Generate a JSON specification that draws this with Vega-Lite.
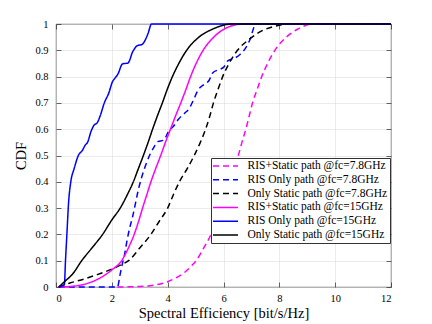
{
  "$schema": "https://vega.github.io/schema/vega-lite/v6.json",
  "width": 335,
  "height": 263,
  "autosize": {"type": "none"},
  "padding": {"left": 56, "top": 24, "right": 41, "bottom": 37},
  "background": "white",
  "config": {
    "font": "Liberation Serif",
    "view": {"stroke": "#262626", "strokeWidth": 0.8},
    "axis": {
      "labelFont": "Liberation Serif",
      "labelFontSize": 10.5,
      "labelColor": "#000000",
      "titleFont": "Liberation Serif",
      "titleFontSize": 14.5,
      "titleFontWeight": "normal",
      "titleColor": "#000000",
      "gridColor": "#dedede",
      "gridWidth": 0.6,
      "domain": false,
      "tickColor": "#262626",
      "tickWidth": 0.7
    },
    "legend": {
      "labelFont": "Liberation Serif",
      "labelFontSize": 11.5,
      "labelColor": "#000000",
      "labelLimit": 0
    }
  },
  "data": {"values": [
    {"s": "RIS+Static path @fc=7.8GHz", "x": 2.2, "y": 0},
    {"s": "RIS+Static path @fc=7.8GHz", "x": 3.0, "y": 0.002},
    {"s": "RIS+Static path @fc=7.8GHz", "x": 3.5, "y": 0.007},
    {"s": "RIS+Static path @fc=7.8GHz", "x": 4.0, "y": 0.02},
    {"s": "RIS+Static path @fc=7.8GHz", "x": 4.3, "y": 0.035},
    {"s": "RIS+Static path @fc=7.8GHz", "x": 4.6, "y": 0.055},
    {"s": "RIS+Static path @fc=7.8GHz", "x": 4.85, "y": 0.08},
    {"s": "RIS+Static path @fc=7.8GHz", "x": 5.02, "y": 0.1},
    {"s": "RIS+Static path @fc=7.8GHz", "x": 5.3, "y": 0.15},
    {"s": "RIS+Static path @fc=7.8GHz", "x": 5.55, "y": 0.2},
    {"s": "RIS+Static path @fc=7.8GHz", "x": 5.72, "y": 0.25},
    {"s": "RIS+Static path @fc=7.8GHz", "x": 5.88, "y": 0.3},
    {"s": "RIS+Static path @fc=7.8GHz", "x": 6.05, "y": 0.35},
    {"s": "RIS+Static path @fc=7.8GHz", "x": 6.2, "y": 0.4},
    {"s": "RIS+Static path @fc=7.8GHz", "x": 6.37, "y": 0.45},
    {"s": "RIS+Static path @fc=7.8GHz", "x": 6.53, "y": 0.5},
    {"s": "RIS+Static path @fc=7.8GHz", "x": 6.66, "y": 0.55},
    {"s": "RIS+Static path @fc=7.8GHz", "x": 6.8, "y": 0.6},
    {"s": "RIS+Static path @fc=7.8GHz", "x": 6.92, "y": 0.65},
    {"s": "RIS+Static path @fc=7.8GHz", "x": 7.04, "y": 0.7},
    {"s": "RIS+Static path @fc=7.8GHz", "x": 7.2, "y": 0.75},
    {"s": "RIS+Static path @fc=7.8GHz", "x": 7.37, "y": 0.8},
    {"s": "RIS+Static path @fc=7.8GHz", "x": 7.58, "y": 0.85},
    {"s": "RIS+Static path @fc=7.8GHz", "x": 7.84, "y": 0.9},
    {"s": "RIS+Static path @fc=7.8GHz", "x": 8.25, "y": 0.95},
    {"s": "RIS+Static path @fc=7.8GHz", "x": 8.65, "y": 0.98},
    {"s": "RIS+Static path @fc=7.8GHz", "x": 9.2, "y": 1},
    {"s": "RIS+Static path @fc=7.8GHz", "x": 12, "y": 1},

    {"s": "RIS Only path @fc=7.8GHz", "x": 0.1, "y": 0},
    {"s": "RIS Only path @fc=7.8GHz", "x": 2.2, "y": 0},
    {"s": "RIS Only path @fc=7.8GHz", "x": 2.3, "y": 0.05},
    {"s": "RIS Only path @fc=7.8GHz", "x": 2.38, "y": 0.09},
    {"s": "RIS Only path @fc=7.8GHz", "x": 2.45, "y": 0.12},
    {"s": "RIS Only path @fc=7.8GHz", "x": 2.55, "y": 0.18},
    {"s": "RIS Only path @fc=7.8GHz", "x": 2.63, "y": 0.22},
    {"s": "RIS Only path @fc=7.8GHz", "x": 2.75, "y": 0.27},
    {"s": "RIS Only path @fc=7.8GHz", "x": 2.85, "y": 0.32},
    {"s": "RIS Only path @fc=7.8GHz", "x": 2.95, "y": 0.37},
    {"s": "RIS Only path @fc=7.8GHz", "x": 3.05, "y": 0.41},
    {"s": "RIS Only path @fc=7.8GHz", "x": 3.2, "y": 0.46},
    {"s": "RIS Only path @fc=7.8GHz", "x": 3.35, "y": 0.5},
    {"s": "RIS Only path @fc=7.8GHz", "x": 3.5, "y": 0.53},
    {"s": "RIS Only path @fc=7.8GHz", "x": 3.65, "y": 0.553},
    {"s": "RIS Only path @fc=7.8GHz", "x": 3.85, "y": 0.558},
    {"s": "RIS Only path @fc=7.8GHz", "x": 4.05, "y": 0.595},
    {"s": "RIS Only path @fc=7.8GHz", "x": 4.2, "y": 0.61},
    {"s": "RIS Only path @fc=7.8GHz", "x": 4.4, "y": 0.64},
    {"s": "RIS Only path @fc=7.8GHz", "x": 4.6, "y": 0.66},
    {"s": "RIS Only path @fc=7.8GHz", "x": 4.78, "y": 0.68},
    {"s": "RIS Only path @fc=7.8GHz", "x": 4.92, "y": 0.71},
    {"s": "RIS Only path @fc=7.8GHz", "x": 5.1, "y": 0.75},
    {"s": "RIS Only path @fc=7.8GHz", "x": 5.3, "y": 0.77},
    {"s": "RIS Only path @fc=7.8GHz", "x": 5.48, "y": 0.785},
    {"s": "RIS Only path @fc=7.8GHz", "x": 5.62, "y": 0.815},
    {"s": "RIS Only path @fc=7.8GHz", "x": 5.8, "y": 0.825},
    {"s": "RIS Only path @fc=7.8GHz", "x": 6.0, "y": 0.835},
    {"s": "RIS Only path @fc=7.8GHz", "x": 6.15, "y": 0.86},
    {"s": "RIS Only path @fc=7.8GHz", "x": 6.4, "y": 0.87},
    {"s": "RIS Only path @fc=7.8GHz", "x": 6.6, "y": 0.885},
    {"s": "RIS Only path @fc=7.8GHz", "x": 6.8, "y": 0.91},
    {"s": "RIS Only path @fc=7.8GHz", "x": 6.98, "y": 0.95},
    {"s": "RIS Only path @fc=7.8GHz", "x": 7.08, "y": 0.985},
    {"s": "RIS Only path @fc=7.8GHz", "x": 7.15, "y": 1},
    {"s": "RIS Only path @fc=7.8GHz", "x": 12, "y": 1},

    {"s": "Only Static path @fc=7.8GHz", "x": 0.1, "y": 0},
    {"s": "Only Static path @fc=7.8GHz", "x": 0.5, "y": 0.015},
    {"s": "Only Static path @fc=7.8GHz", "x": 1.0, "y": 0.03},
    {"s": "Only Static path @fc=7.8GHz", "x": 1.5, "y": 0.048},
    {"s": "Only Static path @fc=7.8GHz", "x": 2.0, "y": 0.068},
    {"s": "Only Static path @fc=7.8GHz", "x": 2.3, "y": 0.083},
    {"s": "Only Static path @fc=7.8GHz", "x": 2.6, "y": 0.1},
    {"s": "Only Static path @fc=7.8GHz", "x": 3.0, "y": 0.148},
    {"s": "Only Static path @fc=7.8GHz", "x": 3.4, "y": 0.2},
    {"s": "Only Static path @fc=7.8GHz", "x": 3.7, "y": 0.25},
    {"s": "Only Static path @fc=7.8GHz", "x": 4.0, "y": 0.3},
    {"s": "Only Static path @fc=7.8GHz", "x": 4.2, "y": 0.35},
    {"s": "Only Static path @fc=7.8GHz", "x": 4.42, "y": 0.4},
    {"s": "Only Static path @fc=7.8GHz", "x": 4.7, "y": 0.45},
    {"s": "Only Static path @fc=7.8GHz", "x": 4.95, "y": 0.5},
    {"s": "Only Static path @fc=7.8GHz", "x": 5.17, "y": 0.55},
    {"s": "Only Static path @fc=7.8GHz", "x": 5.36, "y": 0.6},
    {"s": "Only Static path @fc=7.8GHz", "x": 5.51, "y": 0.65},
    {"s": "Only Static path @fc=7.8GHz", "x": 5.64, "y": 0.7},
    {"s": "Only Static path @fc=7.8GHz", "x": 5.8, "y": 0.75},
    {"s": "Only Static path @fc=7.8GHz", "x": 5.97, "y": 0.8},
    {"s": "Only Static path @fc=7.8GHz", "x": 6.2, "y": 0.85},
    {"s": "Only Static path @fc=7.8GHz", "x": 6.5, "y": 0.9},
    {"s": "Only Static path @fc=7.8GHz", "x": 6.9, "y": 0.94},
    {"s": "Only Static path @fc=7.8GHz", "x": 7.3, "y": 0.97},
    {"s": "Only Static path @fc=7.8GHz", "x": 7.8, "y": 0.99},
    {"s": "Only Static path @fc=7.8GHz", "x": 8.4, "y": 1},
    {"s": "Only Static path @fc=7.8GHz", "x": 12, "y": 1},

    {"s": "RIS+Static path @fc=15GHz", "x": 0.1, "y": 0},
    {"s": "RIS+Static path @fc=15GHz", "x": 0.5, "y": 0.002},
    {"s": "RIS+Static path @fc=15GHz", "x": 1.0, "y": 0.01},
    {"s": "RIS+Static path @fc=15GHz", "x": 1.5, "y": 0.03},
    {"s": "RIS+Static path @fc=15GHz", "x": 2.0, "y": 0.065},
    {"s": "RIS+Static path @fc=15GHz", "x": 2.35, "y": 0.1},
    {"s": "RIS+Static path @fc=15GHz", "x": 2.6, "y": 0.15},
    {"s": "RIS+Static path @fc=15GHz", "x": 2.8, "y": 0.2},
    {"s": "RIS+Static path @fc=15GHz", "x": 2.96, "y": 0.25},
    {"s": "RIS+Static path @fc=15GHz", "x": 3.1, "y": 0.3},
    {"s": "RIS+Static path @fc=15GHz", "x": 3.25, "y": 0.35},
    {"s": "RIS+Static path @fc=15GHz", "x": 3.4, "y": 0.4},
    {"s": "RIS+Static path @fc=15GHz", "x": 3.57, "y": 0.45},
    {"s": "RIS+Static path @fc=15GHz", "x": 3.75, "y": 0.5},
    {"s": "RIS+Static path @fc=15GHz", "x": 3.92, "y": 0.55},
    {"s": "RIS+Static path @fc=15GHz", "x": 4.1, "y": 0.6},
    {"s": "RIS+Static path @fc=15GHz", "x": 4.28, "y": 0.65},
    {"s": "RIS+Static path @fc=15GHz", "x": 4.47, "y": 0.7},
    {"s": "RIS+Static path @fc=15GHz", "x": 4.65, "y": 0.75},
    {"s": "RIS+Static path @fc=15GHz", "x": 4.82, "y": 0.8},
    {"s": "RIS+Static path @fc=15GHz", "x": 5.02, "y": 0.85},
    {"s": "RIS+Static path @fc=15GHz", "x": 5.27, "y": 0.9},
    {"s": "RIS+Static path @fc=15GHz", "x": 5.65, "y": 0.95},
    {"s": "RIS+Static path @fc=15GHz", "x": 6.1, "y": 0.985},
    {"s": "RIS+Static path @fc=15GHz", "x": 6.7, "y": 1},
    {"s": "RIS+Static path @fc=15GHz", "x": 12, "y": 1},

    {"s": "RIS Only path @fc=15GHz", "x": 0.1, "y": 0},
    {"s": "RIS Only path @fc=15GHz", "x": 0.3, "y": 0.01},
    {"s": "RIS Only path @fc=15GHz", "x": 0.34, "y": 0.1},
    {"s": "RIS Only path @fc=15GHz", "x": 0.39, "y": 0.2},
    {"s": "RIS Only path @fc=15GHz", "x": 0.45, "y": 0.32},
    {"s": "RIS Only path @fc=15GHz", "x": 0.53, "y": 0.4},
    {"s": "RIS Only path @fc=15GHz", "x": 0.65, "y": 0.45},
    {"s": "RIS Only path @fc=15GHz", "x": 0.8, "y": 0.5},
    {"s": "RIS Only path @fc=15GHz", "x": 0.95, "y": 0.52},
    {"s": "RIS Only path @fc=15GHz", "x": 1.05, "y": 0.54},
    {"s": "RIS Only path @fc=15GHz", "x": 1.13, "y": 0.55},
    {"s": "RIS Only path @fc=15GHz", "x": 1.25, "y": 0.59},
    {"s": "RIS Only path @fc=15GHz", "x": 1.36, "y": 0.615},
    {"s": "RIS Only path @fc=15GHz", "x": 1.48, "y": 0.625},
    {"s": "RIS Only path @fc=15GHz", "x": 1.58, "y": 0.65},
    {"s": "RIS Only path @fc=15GHz", "x": 1.73, "y": 0.7},
    {"s": "RIS Only path @fc=15GHz", "x": 1.9, "y": 0.74},
    {"s": "RIS Only path @fc=15GHz", "x": 2.02, "y": 0.78},
    {"s": "RIS Only path @fc=15GHz", "x": 2.12, "y": 0.795},
    {"s": "RIS Only path @fc=15GHz", "x": 2.22, "y": 0.81},
    {"s": "RIS Only path @fc=15GHz", "x": 2.38, "y": 0.848},
    {"s": "RIS Only path @fc=15GHz", "x": 2.58, "y": 0.852},
    {"s": "RIS Only path @fc=15GHz", "x": 2.75, "y": 0.895},
    {"s": "RIS Only path @fc=15GHz", "x": 2.92, "y": 0.918},
    {"s": "RIS Only path @fc=15GHz", "x": 3.08, "y": 0.922},
    {"s": "RIS Only path @fc=15GHz", "x": 3.2, "y": 0.94},
    {"s": "RIS Only path @fc=15GHz", "x": 3.3, "y": 0.965},
    {"s": "RIS Only path @fc=15GHz", "x": 3.42, "y": 1},
    {"s": "RIS Only path @fc=15GHz", "x": 12, "y": 1},

    {"s": "Only Static path @fc=15GHz", "x": 0.1, "y": 0},
    {"s": "Only Static path @fc=15GHz", "x": 0.3, "y": 0.02},
    {"s": "Only Static path @fc=15GHz", "x": 0.6, "y": 0.05},
    {"s": "Only Static path @fc=15GHz", "x": 0.92, "y": 0.1},
    {"s": "Only Static path @fc=15GHz", "x": 1.3, "y": 0.15},
    {"s": "Only Static path @fc=15GHz", "x": 1.67, "y": 0.2},
    {"s": "Only Static path @fc=15GHz", "x": 2.0, "y": 0.255},
    {"s": "Only Static path @fc=15GHz", "x": 2.3, "y": 0.3},
    {"s": "Only Static path @fc=15GHz", "x": 2.55, "y": 0.35},
    {"s": "Only Static path @fc=15GHz", "x": 2.77, "y": 0.4},
    {"s": "Only Static path @fc=15GHz", "x": 2.95, "y": 0.45},
    {"s": "Only Static path @fc=15GHz", "x": 3.13, "y": 0.5},
    {"s": "Only Static path @fc=15GHz", "x": 3.3, "y": 0.55},
    {"s": "Only Static path @fc=15GHz", "x": 3.46, "y": 0.6},
    {"s": "Only Static path @fc=15GHz", "x": 3.63, "y": 0.65},
    {"s": "Only Static path @fc=15GHz", "x": 3.81, "y": 0.7},
    {"s": "Only Static path @fc=15GHz", "x": 3.98, "y": 0.75},
    {"s": "Only Static path @fc=15GHz", "x": 4.17, "y": 0.8},
    {"s": "Only Static path @fc=15GHz", "x": 4.4, "y": 0.85},
    {"s": "Only Static path @fc=15GHz", "x": 4.68, "y": 0.9},
    {"s": "Only Static path @fc=15GHz", "x": 5.12, "y": 0.95},
    {"s": "Only Static path @fc=15GHz", "x": 5.6, "y": 0.98},
    {"s": "Only Static path @fc=15GHz", "x": 6.3, "y": 1},
    {"s": "Only Static path @fc=15GHz", "x": 12, "y": 1}
  ]},
  "resolve": {"axis": {"x": "independent", "y": "independent"}},
  "layer": [
    {
      "transform": [{"filter": "indexof(datum.s, '7.8GHz') >= 0"}],
      "mark": {"type": "line", "strokeWidth": 1.5, "interpolate": "monotone"},
      "encoding": {
        "x": {"field": "x", "type": "quantitative", "scale": {"domain": [0, 12], "nice": false, "zero": false},
          "axis": {"orient": "bottom", "values": [0, 2, 4, 6, 8, 10, 12], "title": "Spectral Efficiency [bit/s/Hz]",
            "tickSize": -5, "labelPadding": 11, "titlePadding": 3, "grid": true}},
        "y": {"field": "y", "type": "quantitative", "scale": {"domain": [0, 1], "nice": false},
          "axis": {"orient": "left", "values": [0, 0.1, 0.2, 0.3, 0.4, 0.5, 0.6, 0.7, 0.8, 0.9, 1], "format": "~g", "title": "CDF",
            "tickSize": -5, "labelPadding": 13, "titlePadding": 6, "grid": true}},
        "color": {"field": "s", "type": "nominal",
          "scale": {
            "domain": ["RIS+Static path @fc=7.8GHz", "RIS Only path @fc=7.8GHz", "Only Static path @fc=7.8GHz", "RIS+Static path @fc=15GHz", "RIS Only path @fc=15GHz", "Only Static path @fc=15GHz"],
            "range": ["#ff00ff", "#0000ff", "#000000", "#ff00ff", "#0000ff", "#000000"]},
          "legend": {"title": null, "orient": "none", "legendX": 155, "legendY": 134,
            "symbolType": "M-2.5,0H2.5", "symbolSize": 100, "symbolStrokeWidth": 1.5,
            "symbolOffset": 6.5, "labelOffset": 16, "rowPadding": 1.8, "padding": 2,
            "strokeColor": "#333333", "fillColor": "#ffffff"}},
        "strokeDash": {"field": "s", "type": "nominal",
          "scale": {
            "domain": ["RIS+Static path @fc=7.8GHz", "RIS Only path @fc=7.8GHz", "Only Static path @fc=7.8GHz", "RIS+Static path @fc=15GHz", "RIS Only path @fc=15GHz", "Only Static path @fc=15GHz"],
            "range": [[6, 4], [6, 4], [6, 4], [1, 0], [1, 0], [1, 0]]},
          "legend": {"title": null, "orient": "none", "legendX": 155, "legendY": 134,
            "symbolType": "M-2.5,0H2.5", "symbolSize": 100, "symbolStrokeWidth": 1.5,
            "symbolOffset": 6.5, "labelOffset": 16, "rowPadding": 1.8, "padding": 2,
            "strokeColor": "#333333", "fillColor": "#ffffff"}}
      }
    },
    {
      "transform": [{"filter": "indexof(datum.s, '15GHz') >= 0"}],
      "mark": {"type": "line", "strokeWidth": 1.5, "interpolate": "monotone"},
      "encoding": {
        "x": {"field": "x", "type": "quantitative", "scale": {"domain": [0, 12], "nice": false, "zero": false},
          "axis": {"orient": "top", "values": [0, 2, 4, 6, 8, 10, 12], "title": null, "labels": false, "grid": false, "tickSize": -5}},
        "y": {"field": "y", "type": "quantitative", "scale": {"domain": [0, 1], "nice": false},
          "axis": {"orient": "right", "values": [0, 0.1, 0.2, 0.3, 0.4, 0.5, 0.6, 0.7, 0.8, 0.9, 1], "title": null, "labels": false, "grid": false, "tickSize": -5}},
        "color": {"field": "s", "type": "nominal"},
        "strokeDash": {"field": "s", "type": "nominal"}
      }
    }
  ]
}
